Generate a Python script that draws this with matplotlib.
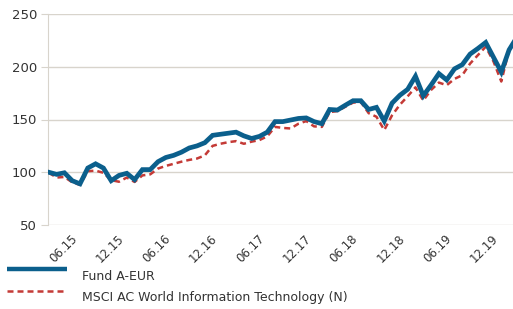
import numpy as np
import matplotlib.pyplot as plt
from matplotlib.lines import Line2D

# Monthly index values, May 2015 onwards (rebased to 100)
fund = [100, 98, 99.5, 92, 89, 104, 108, 104, 92, 97,
        99, 93, 102.5, 102.5, 110, 114, 116, 119, 123, 125,
        128, 135, 136, 137, 138, 134.5, 132, 134, 138, 148,
        148, 149.5, 151, 151.5, 148, 146, 159.5, 159, 163.5, 167.8,
        167.8, 159.5, 161.5, 148.5, 165.5, 173, 178.6, 191, 172.5, 182.7,
        193.5, 187.5, 198, 202, 212, 217.3, 223, 209, 195, 216,
        228]
bench = [99.5, 95, 95.5, 90.5, 88, 101, 101.5, 99.5, 92.5, 91,
         95, 90.8, 97, 98, 103.5, 106, 108, 110, 111.7, 113,
         116, 125, 127, 128.5, 129.5, 127, 129, 130.5, 134, 143,
         142, 141.5, 146, 148.5, 143.5, 143, 157, 158, 162, 166,
         166.5, 156, 152.6, 140, 154, 164, 172, 180.5, 168, 178,
         185, 182.5, 188.5, 192, 203, 211, 219, 205, 186, 216,
         226]
tick_idx = [1, 7, 13, 19, 25, 31, 37, 43, 49, 55]
tick_labels = ['06.15', '12.15', '06.16', '12.16', '06.17',
               '12.17', '06.18', '12.18', '06.19', '12.19']

blue = '#0b5f8c'
red = '#c43a36'
grid_col = '#d8d4cc'
txt = '#333333'

fig = plt.figure(figsize=(5.13, 3.09), dpi=100)
ax = fig.add_axes([48 / 513, 1 - 225 / 309, 1 - 48 / 513, (225 - 14) / 309])

x = np.arange(len(fund))
ax.plot(x, bench, color=red, lw=1.8, dashes=(2.4, 1.6), zorder=3)
ax.plot(x, fund, color=blue, lw=3.4, solid_joinstyle='miter', zorder=4)

ax.set_xlim(-0.1, 59.5)
ax.set_ylim(50, 250)
ax.set_yticks([50, 100, 150, 200, 250])
ax.grid(axis='y', color=grid_col, lw=1)
ax.set_axisbelow(True)
for s in ['top', 'right', 'bottom']:
    ax.spines[s].set_visible(False)
ax.spines['left'].set_color(grid_col)
ax.tick_params(axis='y', length=5, color=grid_col, labelsize=9.5,
               labelcolor=txt, pad=3)

# x labels, rotated 45 degrees, hanging just right of each half-year point
ax.set_xticks([])
for i, lab in zip(tick_idx, tick_labels):
    ax.annotate(lab, xy=(i, 0), xycoords=('data', 'axes fraction'),
                xytext=(10, -5), textcoords='offset points',
                rotation=45, ha='right', va='top', rotation_mode='anchor',
                fontsize=8.5, color=txt)

# legend
fig.add_artist(Line2D([7 / 513, 67 / 513], [1 - 269 / 309] * 2,
                      color=blue, lw=3.2, solid_capstyle='butt'))
fig.add_artist(Line2D([7 / 513, 67 / 513], [1 - 290.5 / 309] * 2,
                      color=red, lw=1.8, dashes=(2.4, 1.6)))
fig.text(82 / 513, 1 - 277 / 309, 'Fund A-EUR', fontsize=9,
         color=txt, va='center')
fig.text(82 / 513, 1 - 297 / 309, 'MSCI AC World Information Technology (N)',
         fontsize=9, color=txt, va='center')

fig.savefig('out.png', dpi=100)
